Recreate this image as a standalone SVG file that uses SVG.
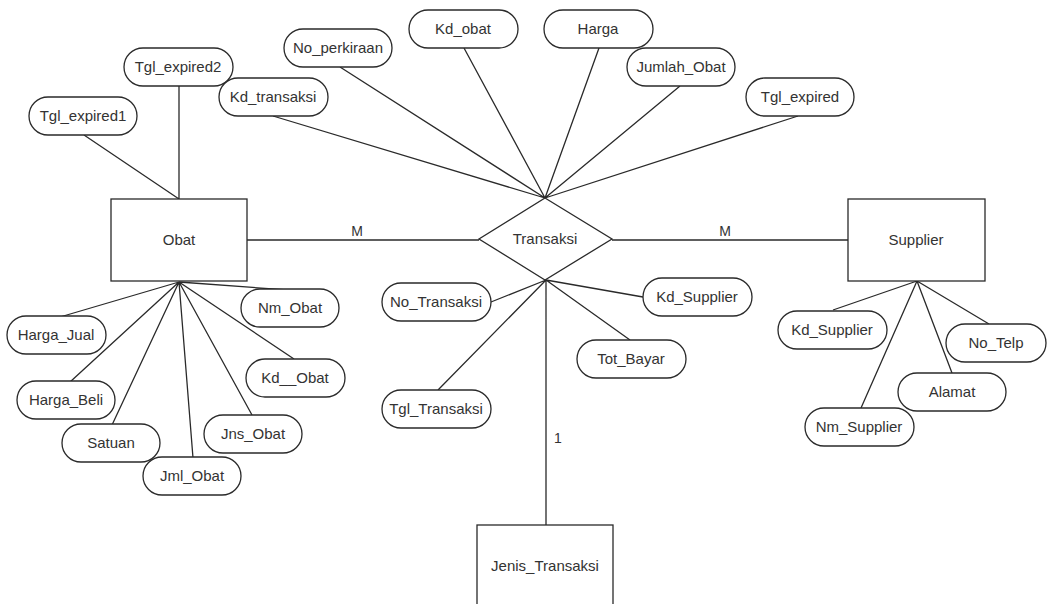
<svg xmlns="http://www.w3.org/2000/svg" width="1048" height="604" viewBox="0 0 1048 604">
<style>
.ln{stroke:#2a2a2a;stroke-width:1.3;fill:none}
.at rect,.en rect,.rel polygon{fill:#fff;stroke:#2a2a2a;stroke-width:1.3}
text{font-family:"Liberation Sans",Arial,sans-serif;font-size:15px;fill:#333;text-anchor:middle}
.lbl{font-size:14px}
</style>
<rect width="1048" height="604" fill="#fff"/>
<g id="connectors" class="ln">
<path d="M179 199L84 135M179 199L179 86"/>
<path d="M179 282L287 290M179 282L60 317M179 282L70 382M179 282L112 425M179 282L193 458M179 282L252 415M179 282L294 359"/>
<path d="M545 198L273 116M545 198L340 67M545 198L464 48M545 198L599 48M545 198L680 86M545 198L798 116"/>
<path d="M546 280L491 302M546 280L438 390M546 280L630 340M546 280L643 297M546 280L546 525"/>
<path d="M917 281L833 310M917 281L861 408M917 281L952 373M917 281L989 324"/>
<path d="M247 240L479 240M612 240L848 240"/>
</g>
<g id="lbl-m1"><text class="lbl" x="357" y="236">M</text></g>
<g id="lbl-m2"><text class="lbl" x="725" y="236">M</text></g>
<g id="lbl-1"><text class="lbl" x="558" y="443">1</text></g>
<g id="obat" class="en"><rect x="111" y="199" width="136" height="82"/><text x="179" y="245">Obat</text></g>
<g id="supplier" class="en"><rect x="848" y="199" width="137" height="82"/><text x="916" y="245">Supplier</text></g>
<g id="jenis_transaksi" class="en"><rect x="477" y="525" width="136" height="100"/><text x="545" y="571">Jenis_Transaksi</text></g>
<g id="transaksi" class="rel"><polygon points="545,198 612,239 545,280 479,239"/><text x="545" y="244">Transaksi</text></g>
<g id="tgl_expired1" class="at"><rect x="29" y="97" width="108" height="38" rx="19"/><text x="83" y="121">Tgl_expired1</text></g>
<g id="tgl_expired2" class="at"><rect x="124" y="48" width="109" height="38" rx="19"/><text x="178" y="72">Tgl_expired2</text></g>
<g id="kd_transaksi" class="at"><rect x="219" y="78" width="109" height="38" rx="19"/><text x="273" y="102">Kd_transaksi</text></g>
<g id="no_perkiraan" class="at"><rect x="284" y="29" width="108" height="38" rx="19"/><text x="338" y="53">No_perkiraan</text></g>
<g id="kd_obat" class="at"><rect x="409" y="10" width="109" height="38" rx="19"/><text x="463" y="34">Kd_obat</text></g>
<g id="harga" class="at"><rect x="544" y="10" width="109" height="38" rx="19"/><text x="598" y="34">Harga</text></g>
<g id="jumlah_obat" class="at"><rect x="627" y="48" width="108" height="38" rx="19"/><text x="681" y="72">Jumlah_Obat</text></g>
<g id="tgl_expired" class="at"><rect x="746" y="78" width="108" height="38" rx="19"/><text x="800" y="102">Tgl_expired</text></g>
<g id="nm_obat" class="at"><rect x="241" y="289" width="98" height="38" rx="19"/><text x="290" y="313">Nm_Obat</text></g>
<g id="harga_jual" class="at"><rect x="7" y="316" width="99" height="38" rx="19"/><text x="56" y="340">Harga_Jual</text></g>
<g id="kd__obat" class="at"><rect x="246" y="359" width="99" height="38" rx="19"/><text x="295" y="383">Kd__Obat</text></g>
<g id="harga_beli" class="at"><rect x="17" y="381" width="98" height="38" rx="19"/><text x="66" y="405">Harga_Beli</text></g>
<g id="jns_obat" class="at"><rect x="204" y="415" width="98" height="38" rx="19"/><text x="253" y="439">Jns_Obat</text></g>
<g id="satuan" class="at"><rect x="62" y="424" width="98" height="38" rx="19"/><text x="111" y="448">Satuan</text></g>
<g id="jml_obat" class="at"><rect x="143" y="457" width="98" height="38" rx="19"/><text x="192" y="481">Jml_Obat</text></g>
<g id="no_transaksi" class="at"><rect x="382" y="283" width="109" height="38" rx="19"/><text x="436" y="307">No_Transaksi</text></g>
<g id="tgl_transaksi" class="at"><rect x="382" y="390" width="109" height="38" rx="19"/><text x="436" y="414">Tgl_Transaksi</text></g>
<g id="kd_supplier_t" class="at"><rect x="643" y="278" width="109" height="38" rx="19"/><text x="697" y="302">Kd_Supplier</text></g>
<g id="tot_bayar" class="at"><rect x="577" y="340" width="109" height="38" rx="19"/><text x="631" y="364">Tot_Bayar</text></g>
<g id="kd_supplier_s" class="at"><rect x="778" y="311" width="109" height="38" rx="19"/><text x="832" y="335">Kd_Supplier</text></g>
<g id="no_telp" class="at"><rect x="946" y="324" width="100" height="38" rx="19"/><text x="996" y="348">No_Telp</text></g>
<g id="alamat" class="at"><rect x="898" y="373" width="108" height="38" rx="19"/><text x="952" y="397">Alamat</text></g>
<g id="nm_supplier" class="at"><rect x="805" y="408" width="109" height="38" rx="19"/><text x="859" y="432">Nm_Supplier</text></g>
</svg>
